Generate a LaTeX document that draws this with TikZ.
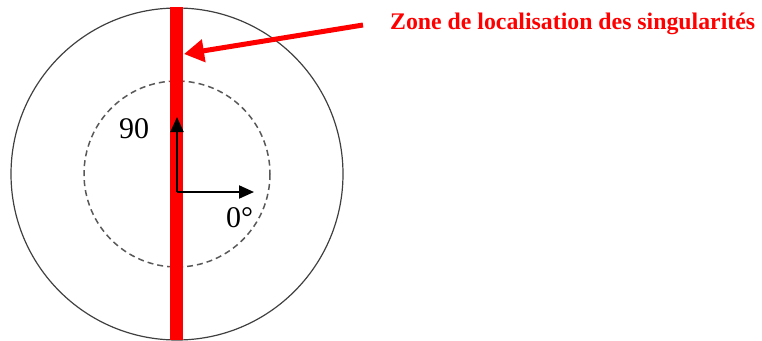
\documentclass[tikz,border=0pt]{standalone}
\usepackage{fontspec}
\setmainfont{Liberation Serif}
\usetikzlibrary{arrows.meta}
\begin{document}
\begin{tikzpicture}[x=1pt,y=-1pt,
  axis/.style={line width=2pt,-{Triangle[length=15pt,width=13pt]}},
  redarrow/.style={red,line width=5pt,-{Triangle[length=20pt,width=22pt]}},
  lbl/.style={font=\fontsize{30}{32}\selectfont,inner sep=0pt}]
\useasboundingbox (0,0) rectangle (762,340);
\coordinate (c) at (177,174);
\draw[line width=1.2pt,black!75] (c) circle[radius=166];
\draw[line width=1.5pt,black!65,dash pattern=on 6pt off 4pt] (c) circle[radius=93];
\fill[red] (170,7) rectangle (183,340);
\coordinate (o) at (177,192);
\coordinate (ytip) at (177,117);
\coordinate (xtip) at (254,192);
\draw[axis] (o) -- (ytip);
\draw[axis] (o) -- (xtip);
\node[lbl,anchor=base west] (l90) at (119,138) {90};
\node[lbl,anchor=base west] (l0) at (226,227) {0°};
\node[red,inner sep=0pt,anchor=west,font=\fontsize{23.8}{25}\selectfont\bfseries] (zone) at (390,24) {Zone de localisation des singularités};
\coordinate (tail) at (363,25);
\coordinate (tip) at (184,54);
\draw[redarrow] (tail) -- (tip);
\end{tikzpicture}
\end{document}
